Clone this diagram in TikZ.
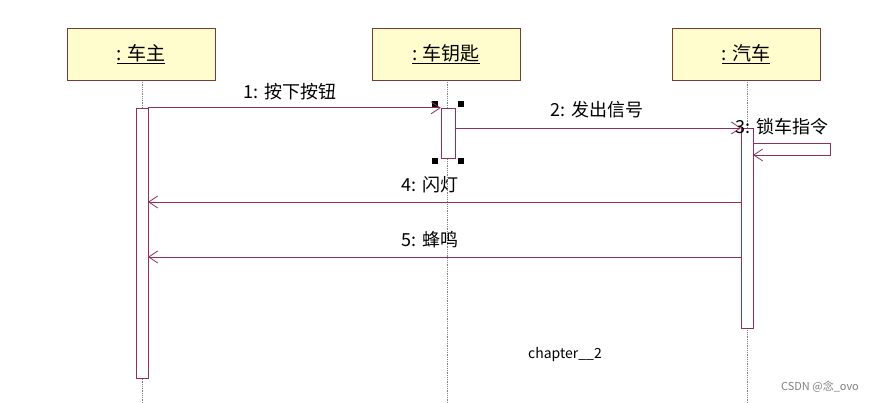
\documentclass[tikz,border=0pt]{standalone}
\usepackage{fontspec}
\setmainfont{Noto Sans CJK SC}
\usetikzlibrary{arrows.meta}
\definecolor{msgcol}{RGB}{140,50,90}
\definecolor{boxfill}{RGB}{255,252,205}
\definecolor{boxdraw}{RGB}{120,60,50}
\tikzset{
  obj/.style={draw=boxdraw,fill=boxfill,minimum width=148pt,minimum height=52pt,font=\fontsize{19}{19}\selectfont},
  act/.style={draw=msgcol,fill=white,minimum width=12pt,inner sep=0pt},
  msg/.style={draw=msgcol,line width=0.8pt,-{Straight Barb[length=9pt,width=12pt]}},
  life/.style={draw=gray,densely dotted,thick},
  lbl/.style={font=\fontsize{18}{18}\selectfont},
  handle/.style={fill=black,minimum size=6pt,inner sep=0pt}
}
\begin{document}
\begin{tikzpicture}[x=1pt,y=-1pt]
  \useasboundingbox (0,0) rectangle (881,403);

  %生命线
  \draw[life] (142,80) -- (142,403);
  \draw[life] (447,80) -- (447,403);
  \draw[life] (747,80) -- (747,403);

  %对象
  \node[obj] (owner) at (141,54) {\underline{: 车主}};
  \node[obj] (key) at (446,54) {\underline{: 车钥匙}};
  \node[obj] (car) at (746,54) {\underline{: 汽车}};

  %激活条
  \node[act,minimum height=270pt] (ownerA) at (142,243) {};
  \node[act,minimum height=50pt,minimum width=14pt] (keyA) at (448,133) {};
  \node[act,minimum height=200pt] (carA) at (747,228) {};

  %选中标记
  \node[handle] (h1) at (435,104) {};
  \node[handle] (h2) at (461,104) {};
  \node[handle] (h3) at (435,161) {};
  \node[handle] (h4) at (461,161) {};

  %消息
  \draw[msg] (ownerA.north east) -- (keyA.north west);
  \node[lbl] (m1) at (290,92) {1: 按下按钮};
  \coordinate (s2) at (455,128);
  \coordinate (e2) at (741,128);
  \draw[msg] (s2) -- (e2);
  \node[lbl] (m2) at (597,110) {2: 发出信号};
  \coordinate (s3) at (753,143);
  \coordinate (e3) at (753,155);
  \draw[msg] (s3) -- (830,143) -- (830,155) -- (e3);
  \node[lbl] (m3) at (782,127) {3: 锁车指令};
  \coordinate (s4) at (741,202);
  \coordinate (e4) at (148,202);
  \draw[msg] (s4) -- (e4);
  \node[lbl] (m4) at (430,185) {4: 闪灯};
  \coordinate (s5) at (741,257);
  \coordinate (e5) at (148,257);
  \draw[msg] (s5) -- (e5);
  \node[lbl] (m5) at (430,240) {5: 蜂鸣};

  %文字
  \node[font=\fontsize{14}{14}\selectfont] (ch) at (565,355) {chapter\_\_2};
  \node[font=\fontsize{11}{11}\selectfont,text=gray] (csdn) at (820,387) {CSDN @念\_ovo};
\end{tikzpicture}
\end{document}
